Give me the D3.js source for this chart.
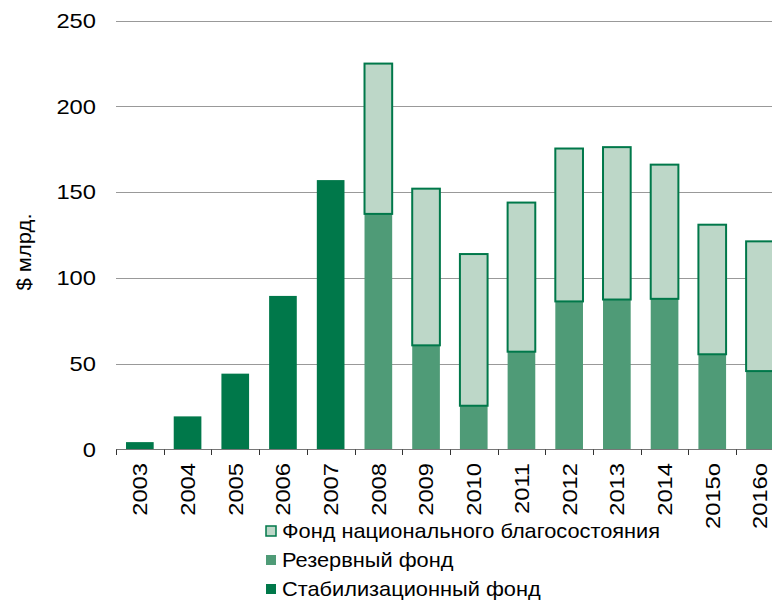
<!DOCTYPE html>
<html><head><meta charset="utf-8">
<script src="https://cdn.jsdelivr.net/npm/d3@7"></script>
<style>body{margin:0;background:#fff}svg{display:block}text{font-family:"Liberation Sans",Arial,sans-serif;fill:#000}</style>
</head><body><svg id="c" width="772" height="600"></svg>
<script>
const years = ["2003","2004","2005","2006","2007","2008","2009","2010","2011","2012","2013","2014","2015o","2016o"];
const stabFund = [4.3,19.3,44.2,89.5,157,0,0,0,0,0,0,0,0,0];
const reserveFund = [0,0,0,0,0,137.3,60.7,25.5,57,86.3,87.4,87.8,55.5,45.7];
const nwfFund = [0,0,0,0,0,87.6,91.3,88.4,86.9,89.1,88.8,78.2,75.5,75.6];
const yTicks = [0,50,100,150,200,250];
const seriesNames = ["Фонд национального благосостояния","Резервный фонд","Стабилизационный фонд"];
const colors = {stab:"#00784A", res:"#4F9B77", nwf:"#BDD7C8", nwfStroke:"#00784A"};

const svg = d3.select("#c");
const x = d3.scaleBand().domain(years).range([116, 116 + 14*47.7]).paddingInner(0.42).paddingOuter(0.21);
const y = d3.scaleLinear().domain([0,250]).range([449.5, 20.5]);

// gridlines
svg.append("g").selectAll("line").data(yTicks.filter(d=>d>0)).join("line")
  .attr("x1",116).attr("x2",790).attr("y1",d=>Math.round(y(d))+0.5).attr("y2",d=>Math.round(y(d))+0.5)
  .attr("stroke","#999").attr("stroke-width",1.2);

// y labels
svg.append("g").selectAll("text").data(yTicks).join("text")
  .attr("transform",d=>`translate(96,${y(d)}) scale(1.13,1)`)
  .attr("dy","0.35em").attr("text-anchor","end")
  .style("font-size","21px").text(d=>d);

svg.append("text").attr("transform","translate(31,252) rotate(-90) scale(1.1,1)").attr("text-anchor","middle")
  .style("font-size","20px").text("$ млрд.");

// bars
const idx = d3.range(years.length);
svg.append("g").selectAll("rect").data(idx.filter(i=>stabFund[i]>0)).join("rect")
  .attr("x",i=>x(years[i])).attr("width",x.bandwidth())
  .attr("y",i=>y(stabFund[i])).attr("height",i=>y(0)-y(stabFund[i])).attr("fill",colors.stab);
svg.append("g").selectAll("rect").data(idx.filter(i=>reserveFund[i]>0)).join("rect")
  .attr("x",i=>x(years[i])).attr("width",x.bandwidth())
  .attr("y",i=>y(reserveFund[i])).attr("height",i=>y(0)-y(reserveFund[i])).attr("fill",colors.res);
svg.append("g").selectAll("rect").data(idx.filter(i=>nwfFund[i]>0)).join("rect")
  .attr("x",i=>x(years[i])).attr("width",x.bandwidth())
  .attr("y",i=>y(reserveFund[i]+nwfFund[i])).attr("height",i=>y(reserveFund[i])-y(reserveFund[i]+nwfFund[i]))
  .attr("fill",colors.nwf).attr("stroke",colors.nwfStroke).attr("stroke-width",2);

// x axis
const xa = svg.append("g");
xa.append("line").attr("x1",116).attr("x2",790).attr("y1",449.5).attr("y2",449.5).attr("stroke","#777").attr("stroke-width",1.2);
xa.selectAll("line.t").data(d3.range(years.length+1)).join("line").attr("class","t")
  .attr("x1",i=>Math.round(x.step()*i+116)+0.5).attr("x2",i=>Math.round(x.step()*i+116)+0.5)
  .attr("y1",449.5).attr("y2",455).attr("stroke","#333").attr("stroke-width",1);
xa.selectAll("text").data(years).join("text")
  .attr("transform",d=>`translate(${x(d)+x.bandwidth()/2},463) rotate(-90) scale(1.13,1)`)
  .attr("text-anchor","end").attr("dy","0.35em").style("font-size","21px").text(d=>d);

// legend
const lg = svg.append("g");
const lc = [colors.nwf, colors.res, colors.stab];
seriesNames.forEach((n,i)=>{
  const cy = 531 + i*29;
  lg.append("rect").attr("x",266).attr("y",cy-5).attr("width",10).attr("height",10)
    .attr("fill",lc[i]).attr("stroke",i===0?colors.nwfStroke:"none").attr("stroke-width",i===0?1.5:0);
  lg.append("text").attr("transform",`translate(282,${cy}) scale(1.09,1)`).attr("dy","0.35em").style("font-size","20px").text(n);
});
</script></body></html>
